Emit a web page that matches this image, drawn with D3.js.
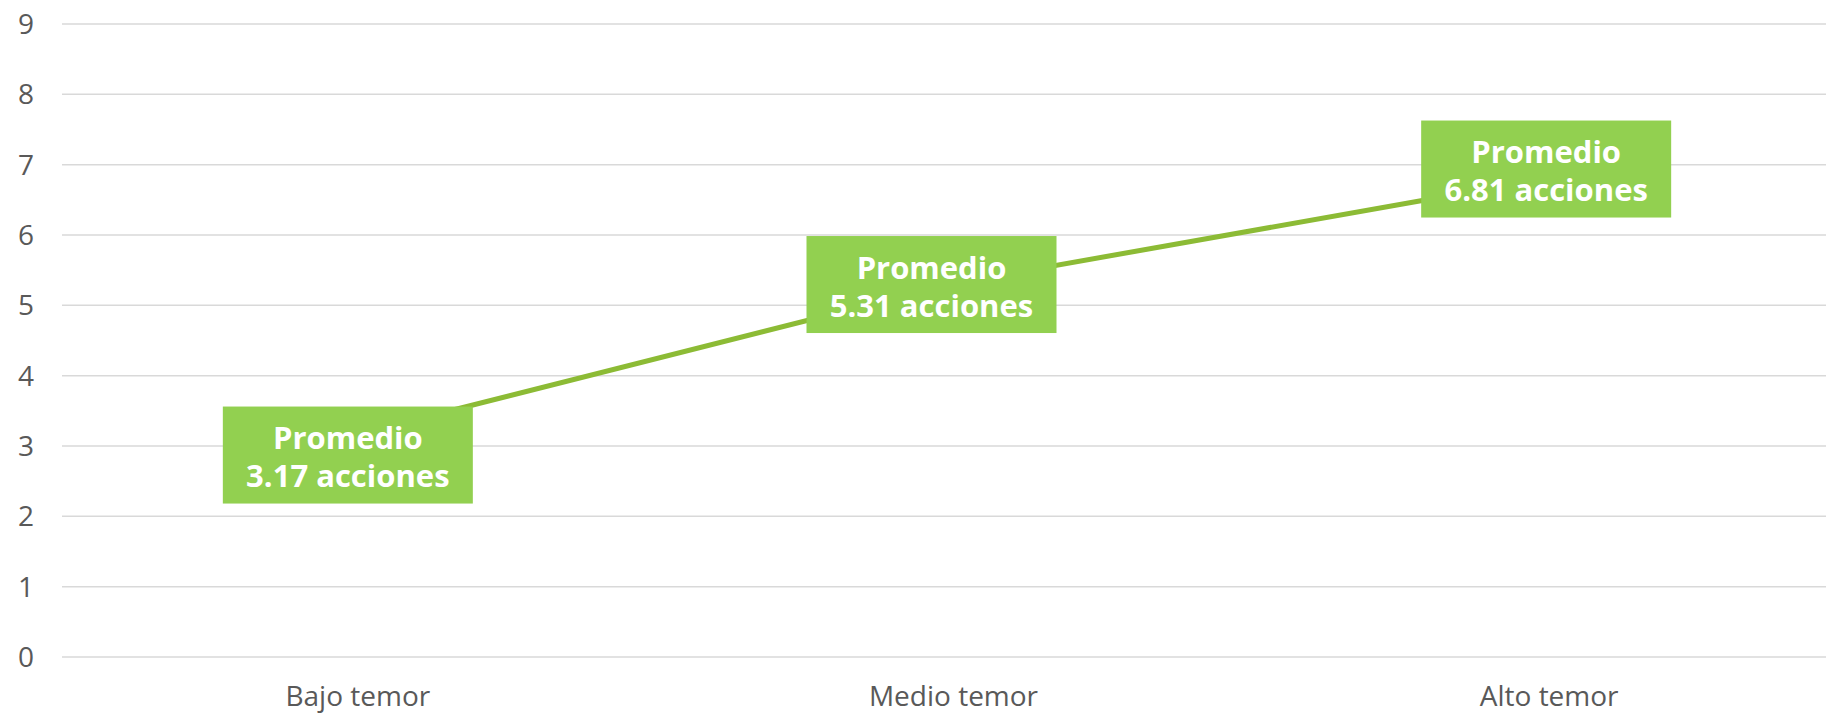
<!DOCTYPE html>
<html>
<head>
<meta charset="utf-8">
<script src="https://cdn.jsdelivr.net/npm/d3@7"></script>
<style>
  html, body { margin: 0; padding: 0; background: #fff; overflow: hidden; }
  svg { display: block; font-family: "Segoe UI", "Open Sans", sans-serif; }
</style>
</head>
<body>
<div id="chart"></div>
<script>
const categories = ["Bajo temor", "Medio temor", "Alto temor"];
const values = [3.17, 5.31, 6.81];
const labelLines = [
  ["Promedio", "3.17 acciones"],
  ["Promedio", "5.31 acciones"],
  ["Promedio", "6.81 acciones"]
];
const yTicks = [0, 1, 2, 3, 4, 5, 6, 7, 8, 9];
// label box nudges (px) relative to the point, as placed in the original
const labelNudge = [[-10, 21], [-22, 1], [-3, -9]];

const width = 1826, height = 714;
const margin = {top: 24, right: -21, bottom: 57, left: 60};

const svg = d3.select("#chart").append("svg")
  .attr("width", width)
  .attr("height", height);

const x = d3.scaleBand().domain(categories)
  .range([margin.left, width - margin.right]);
const y = d3.scaleLinear().domain([0, 9])
  .range([height - margin.bottom, margin.top]);

// gridlines
svg.append("g")
  .selectAll("line")
  .data(yTicks)
  .join("line")
  .attr("x1", margin.left + 2)
  .attr("x2", width - margin.right)
  .attr("y1", d => y(d))
  .attr("y2", d => y(d))
  .attr("stroke", "#d9d9d9")
  .attr("stroke-width", 1.5);

// y tick labels
svg.append("g")
  .selectAll("text")
  .data(yTicks)
  .join("text")
  .attr("x", 34)
  .attr("y", d => y(d))
  .attr("dy", "0.36em")
  .attr("text-anchor", "end")
  .attr("fill", "#595959")
  .style("font-size", "28px")
  .text(d => d);

// category labels
svg.append("g")
  .selectAll("text")
  .data(categories)
  .join("text")
  .attr("x", d => x(d) + x.bandwidth() / 2)
  .attr("y", 706)
  .attr("text-anchor", "middle")
  .attr("fill", "#595959")
  .style("font-size", "28px")
  .text(d => d);

// line
const pts = categories.map((c, i) => [x(c) + x.bandwidth() / 2, y(values[i])]);
svg.append("path")
  .datum(pts)
  .attr("fill", "none")
  .attr("stroke", "#8cbb35")
  .attr("stroke-width", 5)
  .attr("d", d3.line());

// data labels
const lbl = svg.append("g")
  .selectAll("g")
  .data(pts)
  .join("g")
  .attr("transform", (d, i) => `translate(${d[0] + labelNudge[i][0]},${d[1] + labelNudge[i][1]})`);

lbl.append("rect")
  .attr("x", -125)
  .attr("y", -48.5)
  .attr("width", 250)
  .attr("height", 97)
  .attr("fill", "#92d050");

lbl.each(function(d, i) {
  const t = d3.select(this).append("text")
    .attr("text-anchor", "middle")
    .attr("fill", "#fff")
    .style("font-size", "31px")
    .style("font-weight", "bold");
  labelLines[i].forEach((s, k) => {
    t.append("tspan").attr("x", 0).attr("y", k === 0 ? -6 : 32).text(s);
  });
});
</script>
</body>
</html>
